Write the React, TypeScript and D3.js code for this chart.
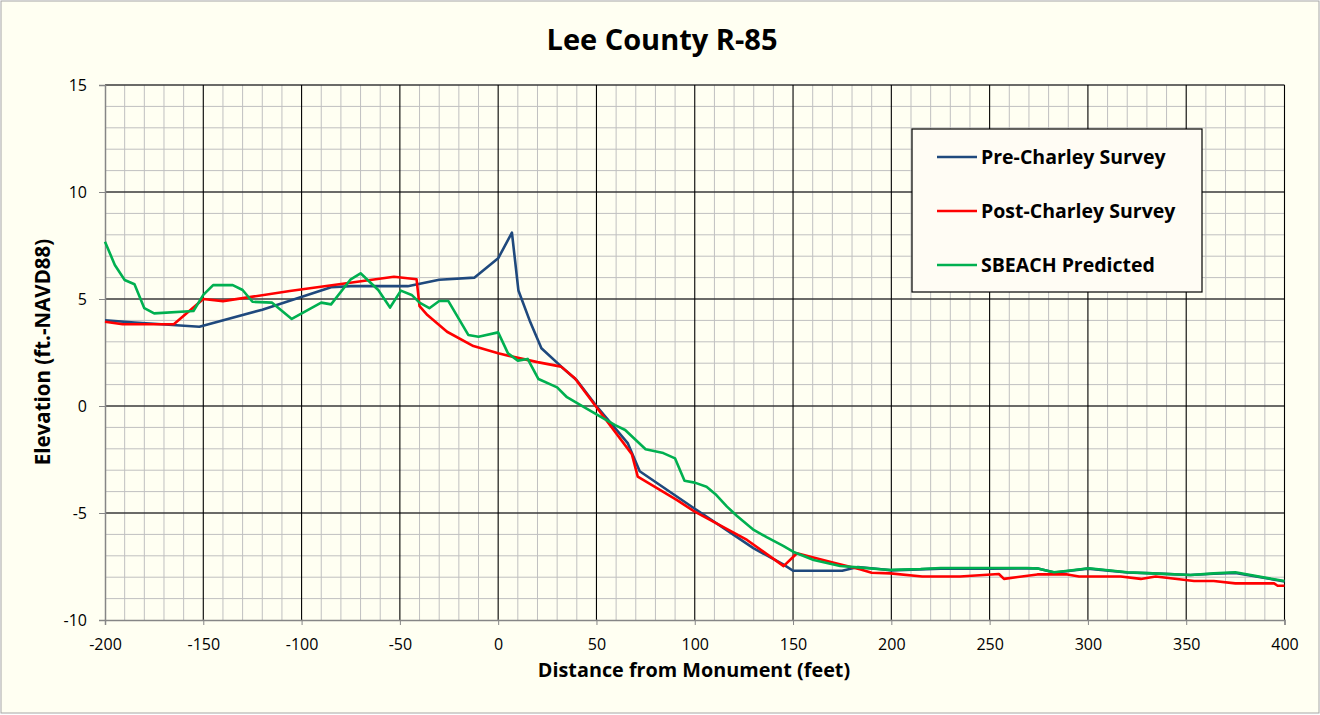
import React, { useEffect, useRef } from "react";
import * as d3 from "d3";

// Profile data: [distance (ft), elevation (ft NAVD88)]
const preCharley: [number, number][] = [
  [-200, 4.0], [-185, 3.9], [-152, 3.7], [-120, 4.5], [-85, 5.55], [-75, 5.6],
  [-46, 5.6], [-30, 5.9], [-12, 6.0], [0, 6.9], [7, 8.1], [10.3, 5.4], [16, 4.0],
  [22, 2.7], [32, 1.85], [40, 1.2], [50, 0.0], [66, -1.75], [72, -3.05],
  [100, -4.8], [130, -6.65], [145, -7.4], [150, -7.7], [175, -7.7], [183, -7.52],
  [195, -7.63], [200, -7.68], [225, -7.6], [250, -7.6], [274, -7.58], [283, -7.78],
  [289, -7.72], [300, -7.6], [320, -7.78], [333, -7.82], [352, -7.9], [364, -7.84],
  [375, -7.8], [400, -8.2],
];

const postCharley: [number, number][] = [
  [-200, 3.94], [-191, 3.82], [-165, 3.82], [-150, 5.0], [-140, 4.9], [-106, 5.37],
  [-53, 6.04], [-41.5, 5.92], [-40, 4.67], [-36, 4.25], [-26, 3.47], [-12.6, 2.8],
  [0, 2.46], [9.5, 2.26], [20, 2.05], [32, 1.84], [39, 1.3], [48.5, 0.13],
  [68, -2.25], [71, -3.3], [91, -4.4], [100, -4.94], [126.6, -6.26], [145.2, -7.48],
  [152, -6.88], [170.7, -7.32], [184, -7.63], [190, -7.79], [199.5, -7.82],
  [215.7, -7.97], [235, -7.97], [254.7, -7.85], [257.3, -8.08], [274.3, -7.87],
  [289.5, -7.87], [295.5, -7.97], [316.7, -7.97], [326.9, -8.08], [334.5, -7.97],
  [354, -8.18], [364, -8.18], [375, -8.29], [394.7, -8.29], [396.5, -8.4], [400, -8.4],
];

const sbeach: [number, number][] = [
  [-200, 7.68], [-195, 6.59], [-190, 5.89], [-185, 5.69], [-180, 4.57], [-175, 4.33],
  [-155, 4.44], [-150, 5.19], [-145, 5.65], [-135, 5.65], [-130, 5.42], [-125, 4.87],
  [-115, 4.83], [-105, 4.07], [-90, 4.83], [-85, 4.75], [-75, 5.92], [-70, 6.2],
  [-61, 5.42], [-55, 4.6], [-49.5, 5.39], [-44, 5.19], [-40, 4.83], [-35, 4.57],
  [-30, 4.91], [-25.4, 4.91], [-15.2, 3.32], [-10, 3.24], [0, 3.44], [5, 2.46],
  [10, 2.12], [15, 2.2], [20.5, 1.26], [30, 0.87], [35, 0.41], [41.7, 0.05],
  [59.5, -0.89], [64.6, -1.12], [75, -2.02], [84, -2.2], [90, -2.45], [94.8, -3.49],
  [100, -3.58], [106, -3.77], [111, -4.16], [116.4, -4.7], [121.5, -5.14],
  [130, -5.79], [136.8, -6.14], [145, -6.54], [150, -6.81], [160.5, -7.2],
  [174, -7.48], [183, -7.54], [194.5, -7.63], [200, -7.66], [215, -7.62],
  [225, -7.57], [269, -7.57], [275, -7.6], [282.7, -7.77], [288.7, -7.71],
  [300.5, -7.58], [320, -7.77], [332.8, -7.82], [352.3, -7.9], [364, -7.82],
  [375, -7.77], [400, -8.18],
];

const seriesNames = ["Pre-Charley Survey", "Post-Charley Survey", "SBEACH Predicted"];
const seriesColors = ["#1f497d", "#ff0000", "#00b050"];
const xTicks = [-200, -150, -100, -50, 0, 50, 100, 150, 200, 250, 300, 350, 400];
const yTicks = [-10, -5, 0, 5, 10, 15];

const App: React.FC = () => {
  const ref = useRef<SVGSVGElement>(null);

  useEffect(() => {
    const W = 1320,
      H = 715;
    const margin = { top: 85, right: 36, bottom: 95, left: 105 };
    const font = "'Open Sans', Lato, sans-serif";

    const svg = d3.select(ref.current);
    svg.selectAll("*").remove();

    // chart area
    svg
      .append("rect")
      .attr("x", 1)
      .attr("y", 1)
      .attr("width", W - 2)
      .attr("height", H - 3)
      .attr("fill", "#fffff2")
      .attr("stroke", "#a6a6a6");

    const x = d3.scaleLinear().domain([-200, 400]).range([margin.left, W - margin.right + 0.5]);
    const y = d3.scaleLinear().domain([-10, 15]).range([H - margin.bottom, margin.top]);

    const g = svg.append("g");

    // minor grid
    g.append("g")
      .selectAll("line")
      .data(d3.range(-200, 401, 10).filter((d) => d % 50 !== 0))
      .enter()
      .append("line")
      .attr("x1", (d) => x(d))
      .attr("x2", (d) => x(d))
      .attr("y1", y(15))
      .attr("y2", y(-10))
      .attr("stroke", "#c0c0c0")
      .attr("stroke-width", 1);

    g.append("g")
      .selectAll("line")
      .data(d3.range(-10, 15.1, 1).filter((d) => d % 5 !== 0))
      .enter()
      .append("line")
      .attr("x1", x(-200))
      .attr("x2", x(400))
      .attr("y1", (d) => y(d))
      .attr("y2", (d) => y(d))
      .attr("stroke", "#c0c0c0")
      .attr("stroke-width", 1);

    // major grid
    g.append("g")
      .selectAll("line")
      .data(yTicks.filter((d) => d !== -10))
      .enter()
      .append("line")
      .attr("x1", x(-200))
      .attr("x2", x(400))
      .attr("y1", (d) => y(d))
      .attr("y2", (d) => y(d))
      .attr("stroke", "#3a3a3a")
      .attr("stroke-width", 1.3);

    g.append("g")
      .selectAll("line")
      .data(xTicks.filter((d) => d !== -200))
      .enter()
      .append("line")
      .attr("x1", (d) => x(d))
      .attr("x2", (d) => x(d))
      .attr("y1", y(15))
      .attr("y2", y(-10))
      .attr("stroke", "#000")
      .attr("stroke-width", 1.1);

    // axes (plain hyphen for negatives, like the original)
    const fmt = (d: d3.NumberValue) => String(d);
    const xAxis = g
      .append("g")
      .attr("transform", `translate(0,${y(-10)})`)
      .call(d3.axisBottom(x).tickValues(xTicks).tickFormat(fmt).tickSize(5).tickPadding(14));
    const yAxis = g
      .append("g")
      .attr("transform", `translate(${x(-200)},0)`)
      .call(d3.axisLeft(y).tickValues(yTicks).tickFormat(fmt).tickSize(6).tickPadding(12));

    [xAxis, yAxis].forEach((ax) => {
      ax.select(".domain").attr("stroke", "#868686").attr("stroke-width", 1.5);
      ax.selectAll(".tick line").attr("stroke", "#868686");
      ax.selectAll("text")
        .style("font-family", font)
        .style("font-size", "16px")
        .attr("fill", "#000");
    });
    xAxis.selectAll(".tick line").attr("y1", -0.5);

    // series lines
    const line = d3
      .line<[number, number]>()
      .x((d) => x(d[0]))
      .y((d) => y(d[1]));

    [preCharley, postCharley, sbeach].forEach((data, i) => {
      g.append("path")
        .datum(data)
        .attr("d", line)
        .attr("fill", "none")
        .attr("stroke", seriesColors[i])
        .attr("stroke-width", 2.6)
        .attr("stroke-linejoin", "round");
    });

    // title
    svg
      .append("text")
      .attr("x", 662)
      .attr("y", 50)
      .attr("text-anchor", "middle")
      .style("font-family", font)
      .style("font-weight", "bold")
      .style("font-size", "29px")
      .text("Lee County R-85");

    // axis titles
    svg
      .append("text")
      .attr("x", 694)
      .attr("y", 677)
      .attr("text-anchor", "middle")
      .style("font-family", font)
      .style("font-weight", "bold")
      .style("font-size", "19.8px")
      .text("Distance from Monument (feet)");

    svg
      .append("text")
      .attr("transform", "translate(50,352) rotate(-90)")
      .attr("text-anchor", "middle")
      .style("font-family", font)
      .style("font-weight", "bold")
      .style("font-size", "20.5px")
      .text("Elevation (ft.-NAVD88)");

    // legend
    const legend = svg.append("g").attr("transform", "translate(912,129)");
    legend
      .append("rect")
      .attr("width", 290)
      .attr("height", 163)
      .attr("fill", "#fffcf4")
      .attr("stroke", "#000")
      .attr("stroke-width", 1.2);

    const item = legend
      .selectAll(".item")
      .data(seriesNames)
      .enter()
      .append("g")
      .attr("transform", (d, i) => `translate(0,${28 + i * 54})`);
    item
      .append("line")
      .attr("x1", 25)
      .attr("x2", 65)
      .attr("stroke", (d, i) => seriesColors[i])
      .attr("stroke-width", 2.6);
    item
      .append("text")
      .attr("x", 69)
      .attr("y", 7)
      .style("font-family", font)
      .style("font-weight", "bold")
      .style("font-size", "19.5px")
      .text((d) => d);
  }, []);

  return (
    <svg
      ref={ref}
      width={1320}
      height={715}
      style={{ position: "absolute", left: 0, top: 0, display: "block" }}
    />
  );
};

export default App;
